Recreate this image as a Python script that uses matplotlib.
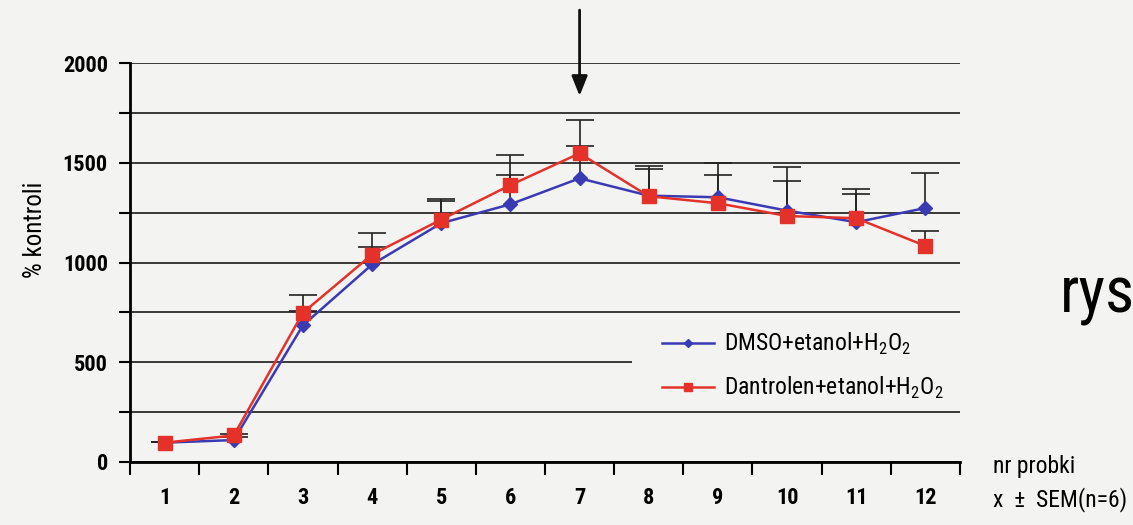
import numpy as np
import matplotlib
matplotlib.use('Agg')
import matplotlib.pyplot as plt
from matplotlib.patches import Rectangle
from matplotlib import font_manager

# waska czcionka, jesli jest
fonty = font_manager.fontManager.ttflist
nazwy = {f.name for f in fonty}
font = 'Lato'
stretch = 'normal'
for n in ['Roboto Condensed', 'Liberation Sans Narrow', 'Open Sans Condensed', 'Noto Sans Condensed']:
    if n in nazwy:
        font = n
        break
else:
    if any(f.name == 'DejaVu Sans' and str(f.stretch) == 'condensed' for f in fonty):
        font = 'DejaVu Sans'
        stretch = 'condensed'

plt.rcParams['font.family'] = [font, 'DejaVu Sans']
plt.rcParams['font.stretch'] = stretch
plt.rcParams['mathtext.fontset'] = 'custom'
plt.rcParams['mathtext.rm'] = font + (':stretch=condensed' if stretch == 'condensed' else '')

# dane
probki = np.arange(1, 13)
dmso = [97, 110, 685, 990, 1197, 1292, 1422, 1335, 1327, 1260, 1202, 1273]
dmso_sem = [5, 17, 72, 90, 111, 146, 160, 133, 173, 218, 141, 175]
dant = [97, 133, 748, 1040, 1215, 1388, 1547, 1332, 1297, 1233, 1222, 1083]
dant_sem = [5, 7, 87, 107, 103, 152, 166, 150, 140, 177, 146, 75]
lab_dmso = r'DMSO+etanol+H$_2$O$_2$'
lab_dant = r'Dantrolen+etanol+H$_2$O$_2$'

bg = '#f3f3f1'
blue = '#3a3ab4'
red = '#e4322a'

fig = plt.figure(figsize=(11.33, 5.25), dpi=100, facecolor=bg)
ax = fig.add_axes([130/1133, 63/525, 830/1133, 399/525], facecolor=bg)

for y, e in [(dmso, dmso_sem), (dant, dant_sem)]:
    eb = ax.errorbar(probki, y, yerr=[np.zeros(12), e], fmt='none',
                     ecolor='#222222', elinewidth=1.2, capsize=10, capthick=1.2, zorder=1.5)
    eb[1][0].set_visible(False)  # bez dolnej kreski
ax.plot(probki, dmso, color=blue, lw=1.8, marker='D', ms=7, label=lab_dmso, zorder=3)
ax.plot(probki, dant, color=red, lw=1.8, marker='s', ms=10, label=lab_dant, zorder=4)

ax.set_xlim(0.5, 12.5)
ax.set_ylim(0, 2000)
ax.set_yticks(np.arange(0, 2001, 250))
ax.set_yticklabels(['0', '', '500', '', '1000', '', '1500', '', '2000'])
ax.set_xticks(probki)
ax.set_xticks(np.arange(0.5, 12.6, 1), minor=True)
ax.tick_params(axis='x', which='major', length=0, pad=18, labelsize=16)
ax.tick_params(axis='x', which='minor', length=9, width=1.5, direction='out')
ax.tick_params(axis='y', length=8, width=1.5, direction='out', pad=8, labelsize=16)
for t in ax.get_xticklabels() + ax.get_yticklabels():
    t.set_fontweight('bold')
ax.grid(axis='y', color='#2a2a2a', lw=1.3)
ax.set_axisbelow(True)
for s in ['top', 'right']:
    ax.spines[s].set_visible(False)
ax.spines['left'].set_linewidth(2)
ax.spines['bottom'].set_linewidth(2)

# tlo pod legenda
ax.add_patch(Rectangle((0.605, 0.143), 0.4, 0.2, transform=ax.transAxes,
                       facecolor=bg, edgecolor='none', zorder=1, clip_on=False))
ax.legend(loc='center left', bbox_to_anchor=(0.615, 0.24), frameon=False,
          fontsize=17, handlelength=2.2, handletextpad=0.45, labelspacing=0.75,
          markerscale=0.6)

ax.annotate('', xy=(7, 1835), xytext=(7, 2265), annotation_clip=False,
            arrowprops=dict(arrowstyle='-|>,head_length=0.4,head_width=0.16',
                            mutation_scale=30, lw=2, color='#111111',
                            shrinkA=0, shrinkB=0))

fig.text(35/1133, 1 - 230/525, '% kontroli', rotation=90, ha='center', va='center', fontsize=18)
fig.text(993/1133, 1 - 467/525, 'nr probki', ha='left', va='center', fontsize=17)
fig.text(993/1133, 1 - 500/525, 'x  ±  SEM(n=6)', ha='left', va='center', fontsize=17)
fig.text(1060/1133, 1 - 312/525, 'rys.', ha='left', va='baseline', fontsize=46)

fig.savefig('out.png', dpi=100, facecolor=bg)
